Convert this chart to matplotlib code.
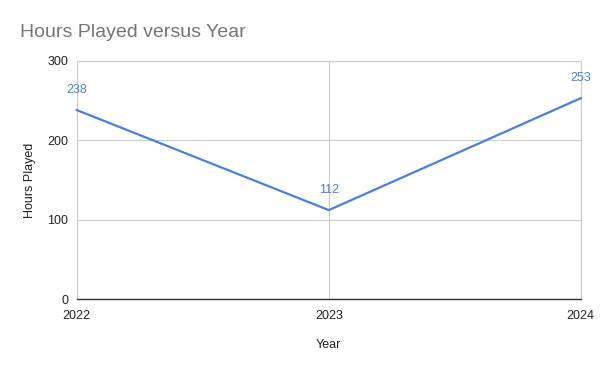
import matplotlib
matplotlib.use('Agg')
import matplotlib.pyplot as plt

years = ['2022', '2023', '2024']
hours = [238, 112, 253]
y_ticks = [0, 100, 200, 300]

plt.rcParams['font.family'] = ['Liberation Sans', 'DejaVu Sans']

fig = plt.figure(figsize=(6, 3.71), dpi=100)
ax = fig.add_axes([0.128, 0.194, 0.840, 0.642])

x = list(range(len(years)))
ax.plot(x, hours, color='#4a7fe0', linewidth=1.6, clip_on=False, zorder=3)

# labels over each point
for xi, v in zip(x, hours):
    ax.annotate(str(v), (xi, v), xytext=(0, 10), textcoords='offset points',
                ha='center', va='bottom', fontsize=9, color='#4a7fe0')

ax.set_xlim(0, len(years) - 1)
ax.set_ylim(0, 300)
ax.set_xticks(x)
ax.set_xticklabels(years)
ax.set_yticks(y_ticks)

ax.grid(True, color='#cccccc', linewidth=0.8)
ax.set_axisbelow(True)
for side in ['top', 'right', 'left']:
    ax.spines[side].set_color('#cccccc')
    ax.spines[side].set_linewidth(0.8)
ax.spines['bottom'].set_color('#333333')
ax.spines['bottom'].set_linewidth(1.0)
ax.tick_params(length=0, labelsize=9, colors='#222222')
ax.tick_params(axis='x', pad=8)
ax.tick_params(axis='y', pad=6)

ax.set_xlabel('Year', fontsize=9, color='#222222', labelpad=12)
ax.set_ylabel('Hours Played', fontsize=9, color='#222222', labelpad=8)

fig.text(0.033, 0.913, 'Hours Played versus Year', fontsize=14, color='#757575',
         ha='left', va='center')

fig.savefig('out.png', dpi=100)
